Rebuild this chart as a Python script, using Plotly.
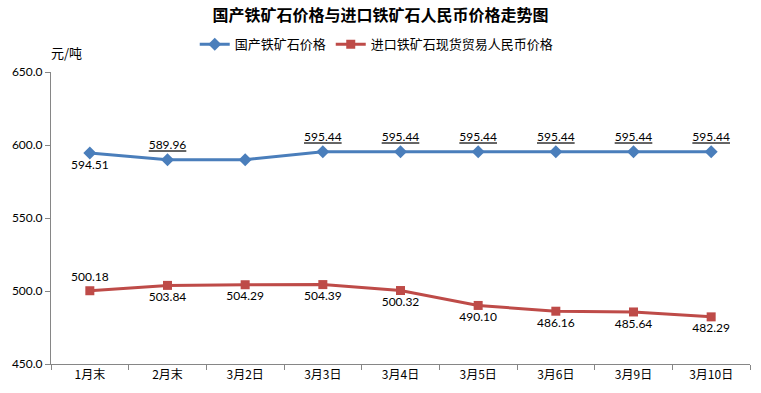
import plotly.graph_objects as go

categories = ["1月末", "2月末", "3月2日", "3月3日", "3月4日", "3月5日", "3月6日", "3月9日", "3月10日"]
domestic = [594.51, 589.96, 589.96, 595.44, 595.44, 595.44, 595.44, 595.44, 595.44]
imported = [500.18, 503.84, 504.29, 504.39, 500.32, 490.10, 486.16, 485.64, 482.29]
domestic_labels = ["594.51", "<u>589.96</u>", "", "<u>595.44</u>", "<u>595.44</u>", "<u>595.44</u>",
                   "<u>595.44</u>", "<u>595.44</u>", "<u>595.44</u>"]
domestic_pos = ["bottom center"] + ["top center"] * 8
imported_labels = ["%.2f" % v for v in imported]
imported_pos = ["top center"] + ["bottom center"] * 8

num_font = "Lato, 'Noto Sans', sans-serif"
cjk_font = "'Noto Sans CJK SC', sans-serif"

fig = go.Figure()
fig.add_trace(go.Scatter(
    x=categories, y=domestic, name="国产铁矿石价格", mode="lines+markers+text",
    line=dict(color="#4a7ebb", width=3),
    marker=dict(symbol="diamond", size=10, color="#4a7ebb"),
    text=domestic_labels, textposition=domestic_pos,
    textfont=dict(family=num_font, size=12, color="#000000"),
    cliponaxis=False,
))
fig.add_trace(go.Scatter(
    x=categories, y=imported, name="进口铁矿石现货贸易人民币价格", mode="lines+markers+text",
    line=dict(color="#be4b48", width=3),
    marker=dict(symbol="square", size=9, color="#be4b48"),
    text=imported_labels, textposition=imported_pos,
    textfont=dict(family=num_font, size=12, color="#000000"),
    cliponaxis=False,
))

fig.update_layout(
    width=761, height=393,
    margin=dict(l=51, r=11, t=72, b=29, autoexpand=False),
    paper_bgcolor="white", plot_bgcolor="white",
    title=dict(text="<b>国产铁矿石价格与进口铁矿石人民币价格走势图</b>",
               x=0.5, xanchor="center", y=0.962, yanchor="middle",
               font=dict(family=cjk_font, size=16, color="#000000")),
    legend=dict(orientation="h", x=0.466, xanchor="center", y=1.095, yanchor="middle",
                font=dict(family=cjk_font, size=13, color="#000000"),
                itemwidth=30, tracegroupgap=0, bgcolor="rgba(0,0,0,0)"),
    showlegend=True,
    xaxis=dict(type="category", showline=True, linecolor="#868686", linewidth=1,
               ticks="outside", tickson="boundaries", ticklen=5, tickcolor="#868686",
               showgrid=False, tickfont=dict(family=cjk_font, size=12, color="#000000"),
               range=[-0.5, 8.5], automargin=False),
    yaxis=dict(range=[450, 650], dtick=50, tickformat=".1f", showline=True,
               linecolor="#868686", linewidth=1, ticks="outside", ticklen=5,
               tickcolor="#868686", showgrid=False, zeroline=False, automargin=False,
               tickfont=dict(family=num_font, size=12, color="#000000")),
    annotations=[dict(text="元/吨", xref="paper", yref="paper", x=-0.003, y=1.068,
                      xanchor="left", yanchor="middle", showarrow=False,
                      font=dict(family=cjk_font, size=13, color="#000000"))],
)

fig.write_html("out.html", config={"displayModeBar": False},
               post_script="document.body.style.margin='0';")
